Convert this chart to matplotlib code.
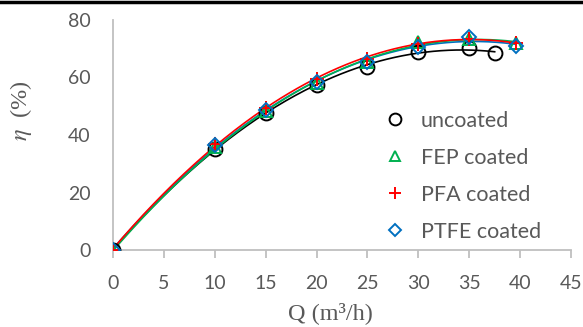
import numpy as np
import matplotlib
matplotlib.use("Agg")
import matplotlib.pyplot as plt
from matplotlib.lines import Line2D

plt.rcParams["mathtext.fontset"] = "stix"

q_uncoated = [0, 10, 15, 20, 25, 30, 35, 37.5]
eta_uncoated = [0, 35.0, 47.8, 57.5, 63.7, 68.8, 70.2, 68.5]

q_coated = [0, 10, 15, 20, 25, 30, 35, 39.6]
eta_fep = [-0.5, 36.0, 48.2, 58.0, 65.5, 72.5, 73.5, 72.0]
eta_pfa = [0, 37.0, 49.5, 59.5, 66.5, 71.8, 73.5, 72.0]
eta_ptfe = [0, 36.5, 48.8, 58.3, 65.3, 70.5, 74.0, 71.0]

xticks = [0, 5, 10, 15, 20, 25, 30, 35, 40, 45]
yticks = [0, 20, 40, 60, 80]

series = [
    ("uncoated", q_uncoated, eta_uncoated, "#000000", "o", 10, "none"),
    ("FEP coated", q_coated, eta_fep, "#00B050", "^", 8.5, "none"),
    ("PFA coated", q_coated, eta_pfa, "#FF0000", "+", 10, None),
    ("PTFE coated", q_coated, eta_ptfe, "#0070C0", "D", 7, "none"),
]

W, H = 583, 327
fig = plt.figure(figsize=(W / 100, H / 100), dpi=100)
ax = fig.add_axes([113 / W, 1 - 250 / H, (571 - 113) / W, 230 / H])

gray = "#595959"
handles = []
for i, (name, x, y, c, m, ms, mfc) in enumerate(series):
    kw = dict(linestyle="none", marker=m, markersize=ms, color=c, markeredgewidth=1.4)
    if mfc == "none":
        kw["markerfacecolor"] = "none"
    ax.plot(x, y, zorder=3 + i, **kw)
    coef = np.polyfit(x, y, 2)
    xs = np.linspace(min(x), max(x), 200)
    ax.plot(xs, np.polyval(coef, xs), color=c, linewidth=1.2,
            zorder=2 + [0, 0.2, 0.3, 0.1][i])
    lkw = dict(kw)
    lkw["markersize"] = ms * 0.85
    handles.append(Line2D([], [], **lkw))

ax.set_xlim(0, 45)
ax.set_ylim(0, 80)
ax.set_xticks(xticks)
ax.set_yticks(yticks)
for s in ["top", "right"]:
    ax.spines[s].set_visible(False)
for s in ["left", "bottom"]:
    ax.spines[s].set_color("#BFBFBF")
    ax.spines[s].set_linewidth(1.3)
ax.tick_params(axis="x", length=6, width=1.3, color="#BFBFBF", labelsize=14,
               labelcolor=gray, pad=12)
ax.tick_params(axis="y", length=0, labelsize=14, labelcolor=gray, pad=16)
for lab in ax.get_xticklabels() + ax.get_yticklabels():
    lab.set_family(["Lato", "DejaVu Sans"])

fig.text(330 / W, 1 - 313 / H, "Q (m³/h)", family=["Liberation Serif", "DejaVu Serif"],
         fontsize=17.5, color=gray, ha="center", va="center")
fig.text(21 / W, 1 - 111 / H, "$\\eta$  (%)", family=["Liberation Serif", "DejaVu Serif"],
         fontsize=17.5, color=gray, ha="center", va="center", rotation=90)

leg = ax.legend(handles, [s[0] for s in series], loc="upper left",
                bbox_to_anchor=((380 - 113) / 458, (250 - 102) / 230), frameon=False,
                handlelength=0.6, handletextpad=0.9, labelspacing=0.79,
                borderaxespad=0, borderpad=0.4,
                prop={"family": ["Lato", "DejaVu Sans"], "size": 15.5})
for t in leg.get_texts():
    t.set_color(gray)

fig.add_artist(Line2D([0, 1], [0.995, 0.995], color="black", linewidth=2.5,
                      transform=fig.transFigure))

fig.savefig("out.png", dpi=100)
